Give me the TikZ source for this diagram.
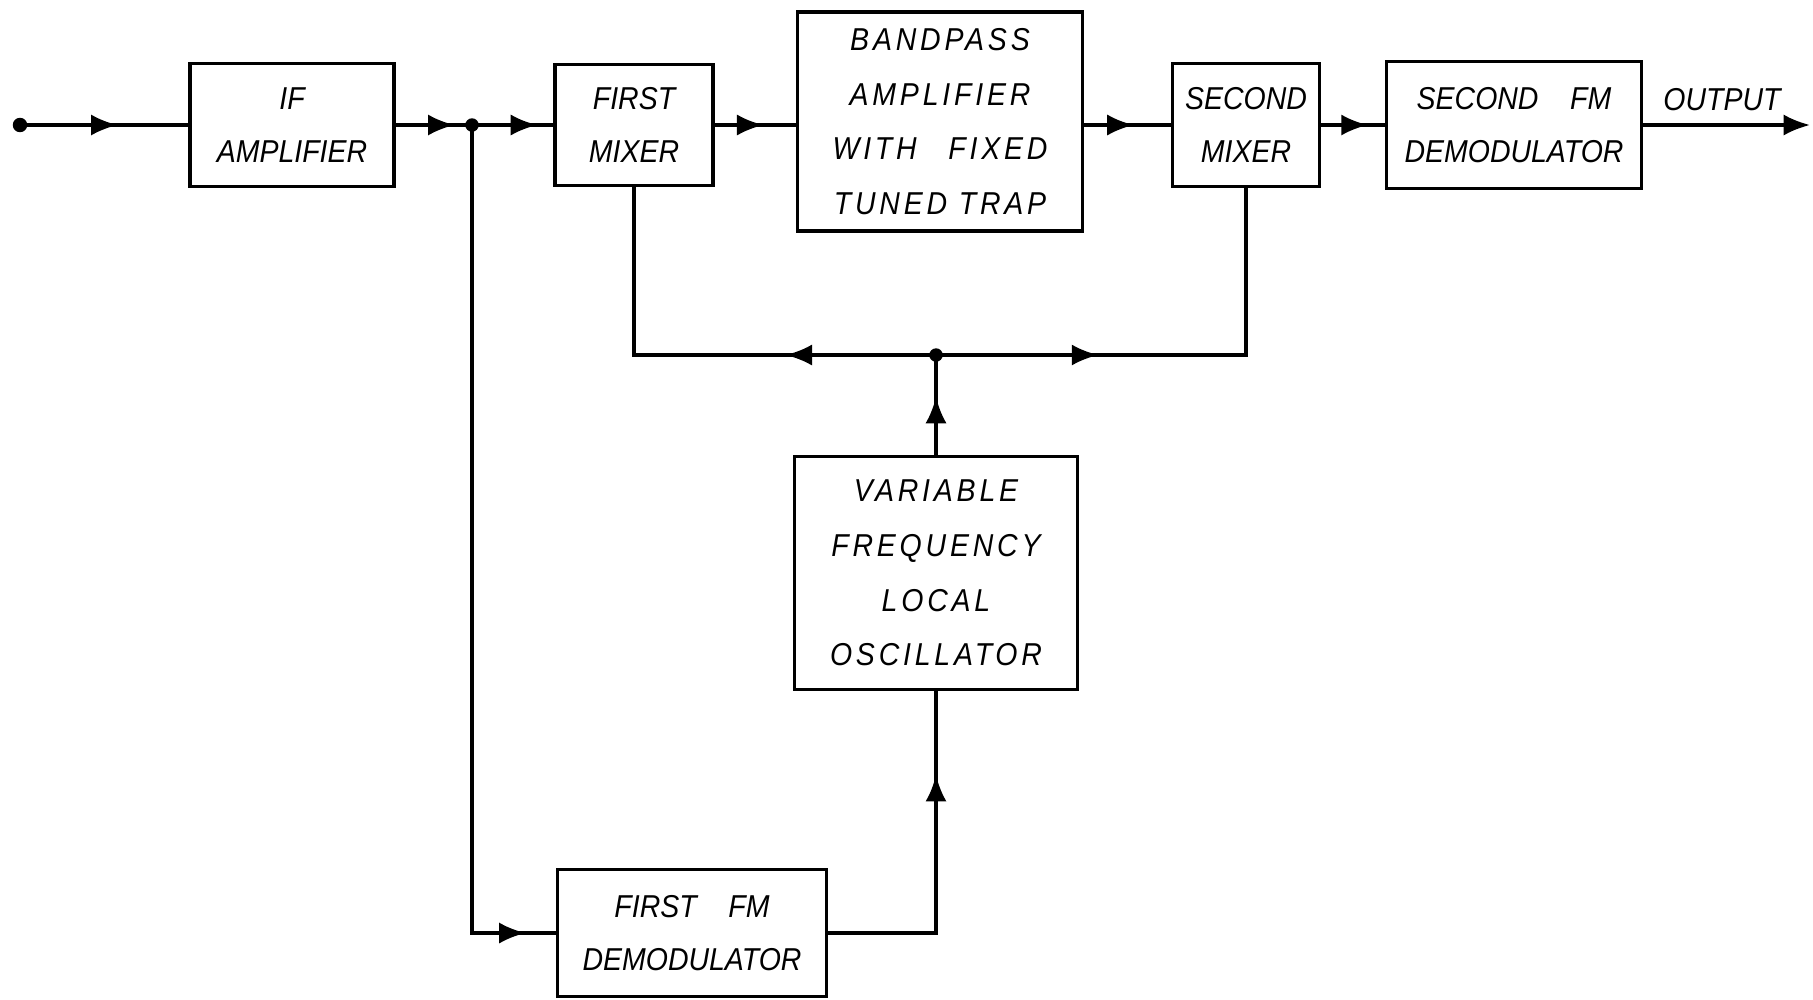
\documentclass[tikz,border=0pt]{standalone}
\usepackage{fontspec}
\usetikzlibrary{arrows.meta}
\usetikzlibrary{decorations.markings}
\newfontfamily\lettering{Liberation Sans}[FakeStretch=0.9]
\tikzset{
    blockbox/.style={draw, line width=0.9pt, inner sep=0pt, align=center,
        font=\lettering\itshape\fontsize{9}{15}\selectfont},
    widebox/.style={blockbox,
        font=\lettering\itshape\addfontfeature{LetterSpace=12}\fontsize{9}{15.5}\selectfont},
    wire/.style={line width=0.9pt},
    tipat/.style={postaction={decorate, decoration={markings,
        mark=at position #1 with {\arrow{Latex[length=7.5pt,width=6pt]}}}}},
    jdot/.style={shape=circle, draw=black, fill=black, inner sep=0pt, minimum size=0.12cm}
}
\newcommand{\wgap}{\hspace{1em}}

\begin{document}
\begin{tikzpicture}[x=0.01cm, y=-0.01cm]
    \useasboundingbox (0,0) rectangle (1813,999);

    \node[blockbox, minimum width=2.04cm, minimum height=1.23cm] (ifamp) at (292,125) {IF\\AMPLIFIER};
    \node[blockbox, minimum width=1.58cm, minimum height=1.21cm] (mixa) at (634,125) {FIRST\\MIXER};
    \node[widebox, minimum width=2.85cm, minimum height=2.19cm] (bandpass) at (940,121.5) {BANDPASS\\AMPLIFIER\\WITH\wgap FIXED\\TUNED TRAP};
    \node[blockbox, minimum width=1.47cm, minimum height=1.23cm] (mixb) at (1246,125) {SECOND\\MIXER};
    \node[blockbox, minimum width=2.55cm, minimum height=1.27cm] (demodb) at (1514,125) {SECOND\wgap FM\\DEMODULATOR};
    \node[font=\lettering\itshape\fontsize{9}{15}\selectfont] (outlbl) at (1722,100) {OUTPUT};

    \node[widebox, minimum width=2.83cm, minimum height=2.33cm] (vfo) at (936,573) {VARIABLE\\FREQUENCY\\LOCAL\\OSCILLATOR};
    \node[blockbox, minimum width=2.69cm, minimum height=1.27cm] (demoda) at (692,933) {FIRST\wgap FM\\DEMODULATOR};

    \node[jdot, minimum size=0.13cm] (src) at (20,125) {};
    \node[jdot] (jin) at (472,125) {};
    \node[jdot] (jlo) at (936,355) {};
    \coordinate (out) at (1810,125);

    \draw[wire, tipat=0.56] (src) -- (ifamp);
    \draw[wire, tipat=0.77] (ifamp) -- (jin.center);
    \draw[wire, tipat=0.8] (jin.center) -- (mixa);
    \draw[wire, tipat=0.6] (mixa) -- (mixa.east -| bandpass.west);
    \draw[wire, tipat=0.57] (bandpass.east |- mixb.west) -- (mixb);
    \draw[wire, tipat=0.73] (mixb) -- (demodb);
    \draw[wire, -{Latex[length=7.5pt,width=6pt]}] (demodb) -- (out);

    \draw[wire, tipat=0.58] (vfo) -- (jlo.center);
    \draw[wire, tipat=0.32] (jlo.center) -| (mixa);
    \draw[wire, tipat=0.34] (jlo.center) -| (mixb);
    \draw[wire, tipat=0.76] (demoda) -| (vfo);
    \draw[wire, tipat=0.966] (jin.center) |- (demoda);
\end{tikzpicture}
\end{document}
